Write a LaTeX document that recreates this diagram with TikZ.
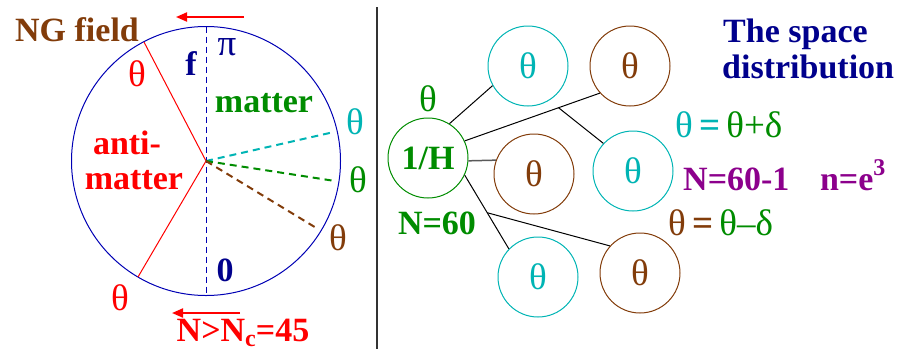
\documentclass[tikz,border=0pt]{standalone}
\usepackage{fontspec}
\setmainfont{Liberation Serif}
\usetikzlibrary{arrows.meta}
\definecolor{brn}{RGB}{130,60,10}
\definecolor{navy}{RGB}{0,0,140}
\definecolor{grn}{RGB}{0,140,0}
\definecolor{cyn}{RGB}{0,180,180}
\definecolor{prp}{RGB}{140,0,140}
\definecolor{blu}{RGB}{0,0,180}
\newcommand{\fsz}{\fontsize{34}{38}\selectfont}
\newcommand{\tsz}{\fontsize{37}{40}\selectfont}
\tikzset{
  lbl/.style={inner sep=0pt, font=\fsz\bfseries},
  tht/.style={inner sep=0pt, font=\tsz},
  cnode/.style={circle, minimum size=80pt, inner sep=0pt, line width=1pt, font=\tsz},
  link/.style={line width=1pt, black},
  redarrow/.style={red, line width=2pt, -{Triangle[length=11pt,width=9pt]}},
  cdash/.style={line width=2pt, dash pattern=on 7pt off 5pt}
}
\begin{document}
\begin{tikzpicture}[x=1pt,y=-1pt]
\useasboundingbox (0,0) rectangle (921,354);
% ---------- left: circle ----------
\coordinate (o) at (206,161);
\draw[blu, line width=1pt] (o) circle (134.5);
\coordinate (ptop) at (206,26.5);
\coordinate (pbot) at (206,295.5);
\draw[blu, line width=1pt, dash pattern=on 6pt off 4pt] (ptop) -- (pbot);
\coordinate (ul) at (144,42);
\coordinate (ll) at (138,277);
\draw[red, line width=1pt] (ul) -- (o) -- (ll);
\coordinate (ec) at (334,132);
\coordinate (eg) at (335,181);
\coordinate (eb) at (318,229);
\draw[cyn, cdash] (o) -- (ec);
\draw[grn, cdash] (o) -- (eg);
\draw[brn, cdash] (o) -- (eb);
% labels
\node[lbl, brn] (ng) at (77,30) {NG field};
\node[tht, red] (t1) at (137,74) {θ};
\node[lbl, navy] (f) at (191,64) {f};
\node[tht, navy] (pi) at (227,47) {π};
\node[lbl, grn] (mat) at (264,103) {matter};
\node[tht, cyn] (tc) at (355,122) {θ};
\node[tht, grn] (tg) at (358,180) {θ};
\node[tht, brn] (tb) at (338,238) {θ};
\node[lbl, red] (anti) at (127,143) {anti-};
\node[lbl, red] (amat) at (134,180) {matter};
\node[lbl, navy] (zero) at (225,270) {0};
\node[tht, red] (t2) at (120,298) {θ};
\coordinate (a1s) at (244,17);
\coordinate (a1e) at (176,17);
\draw[redarrow] (a1s) -- (a1e);
\coordinate (a2s) at (240,313);
\coordinate (a2e) at (172,313);
\draw[redarrow] (a2s) -- (a2e);
\node[lbl, red, anchor=base] (nc) at (243,341) {N>N\raisebox{-0.17em}{\fontsize{24}{24}\selectfont c}=45};
% separator
\coordinate (s1) at (377,7);
\coordinate (s2) at (377,349);
\draw[black!80, line width=1.2pt] (s1) -- (s2);
% ---------- right: tree ----------
\node[cnode, draw=grn, text=grn, font=\fsz\bfseries] (h) at (428,158) {1/H};
\node[tht, grn] (th) at (428,99) {θ};
\node[lbl, grn] (n60) at (437,223) {N=60};
\node[cnode, draw=cyn, text=cyn] (c1) at (528,66) {θ};
\node[cnode, draw=brn, text=brn] (c2) at (630,66) {θ};
\node[cnode, draw=brn, text=brn] (c3) at (534,174) {θ};
\node[cnode, draw=cyn, text=cyn] (c4) at (633,171) {θ};
\node[cnode, draw=cyn, text=cyn] (c5) at (538,277) {θ};
\node[cnode, draw=brn, text=brn] (c6) at (640,273) {θ};
\draw[link] (h.58) -- (c1.209);
\draw[link] (h.25) -- coordinate[pos=0.694] (b1) (c2.222);
\draw[link] (b1) -- (c4.137);
\draw[link, black!65, line width=1.5pt] (h.-4) -- (c3.160);
\draw[link] (h.-25) -- coordinate[pos=0.51] (b2) (c5.136);
\draw[link] (b2) -- (c6.138);
% texts
\node[lbl, navy, anchor=base west] (sp1) at (723,42) {The space};
\node[lbl, navy, anchor=base west] (sp2) at (722,78) {distribution};
\node[tht, anchor=west] (eq1) at (675,125) {\textcolor{cyn}{θ\,\textbf{=}}\,\textcolor{grn}{θ+δ}};
\node[lbl, prp, anchor=west] (nn) at (683,175) {N=60-1\hspace{0.9em}n=e\raisebox{0.45em}{\fontsize{24}{24}\selectfont 3}};
\node[tht, anchor=west] (eq2) at (668,223) {\textcolor{brn}{θ\,\textbf{=}}\,\textcolor{grn}{θ–δ}};
\end{tikzpicture}
\end{document}
